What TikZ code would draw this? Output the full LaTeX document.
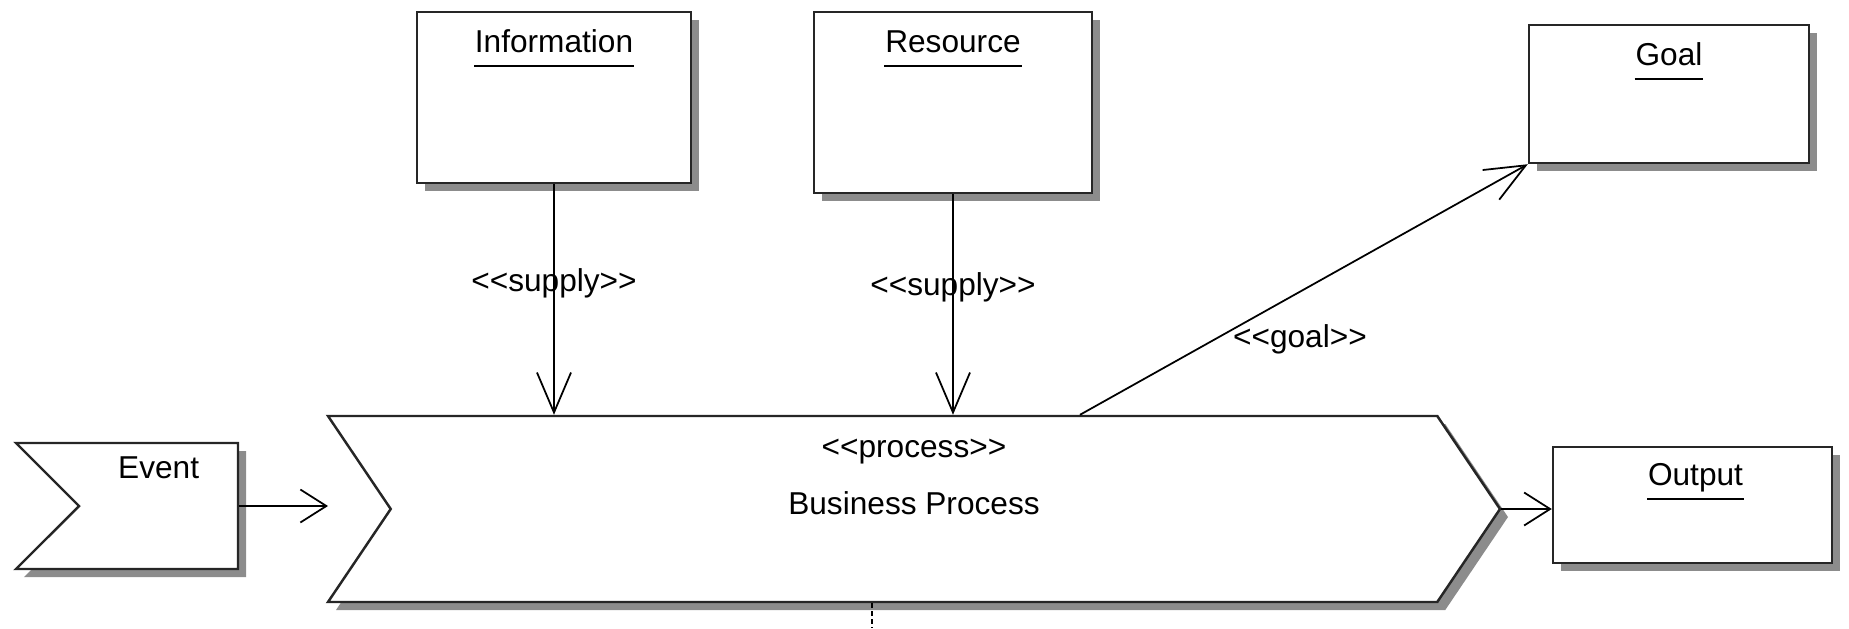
\documentclass[tikz,border=0pt]{standalone}
\usepackage{fontspec}
\setmainfont{Liberation Sans}
\usetikzlibrary{arrows.meta, shapes.symbols, shadows, positioning}

\tikzset{
  shade/.style = {drop shadow={shadow xshift=0.08cm, shadow yshift=-0.08cm, fill=black!45, opacity=1}},
  umlbox/.style = {rectangle, draw=black!85, line width=0.7pt, fill=white, shade},
  chevron/.style = {signal, draw=black!85, line width=0.7pt, fill=white, inner sep=0pt, shade},
  title/.style = {anchor=base, inner xsep=0pt},
  longhead/.style = {-{Straight Barb[length=0.4cm, width=0.34cm]}},
  shorthead/.style = {-{Straight Barb[length=0.26cm, width=0.33cm]}}
}

\begin{document}
\begin{tikzpicture}[line width=0.5pt, font=\fontsize{9}{11}\selectfont]
\useasboundingbox (0,0) rectangle (18.49,6.28);
% shapes
\node[chevron, signal from=west, signal to=nowhere, signal pointer angle=90, minimum width=2.22cm, minimum height=1.26cm] (event) at (1.585,1.22) {};
\node[chevron, signal from=west, signal to=east, signal pointer angle=112, minimum width=11.72cm, minimum height=1.86cm] (proc) at (9.14,1.19) {};
\node[umlbox, minimum width=2.79cm, minimum height=1.16cm] (out) at (16.925,1.23) {};
\node[umlbox, minimum width=2.74cm, minimum height=1.71cm] (info) at (5.54,5.305) {};
\node[umlbox, minimum width=2.78cm, minimum height=1.81cm] (res) at (9.53,5.255) {};
\node[umlbox, minimum width=2.80cm, minimum height=1.38cm] (goal) at (16.69,5.34) {};
% texts
\node[anchor=base east, inner sep=0pt] (evT) at ([xshift=0.415cm, yshift=0.28cm]event.center) {Event};
\node[anchor=base] (procS) at ([yshift=0.52cm]proc.center) {<{}<process>{}>};
\node[anchor=base] (procT) at ([yshift=-0.05cm]proc.center) {Business Process};
\node[title] (infoT) at ([yshift=-0.42cm]info.north) {Information};
\node[title] (resT) at ([yshift=-0.42cm]res.north) {Resource};
\node[title] (goalT) at ([yshift=-0.42cm]goal.north) {Goal};
\node[title, xshift=0.03cm] (outT) at ([yshift=-0.40cm]out.north) {Output};
\foreach \t in {infoT, resT, goalT, outT}
  \draw[line width=0.6pt] ([yshift=-0.13cm]\t.base west) -- ([yshift=-0.13cm]\t.base east);
% connectors
\coordinate (procIn) at (3.28,1.22);
\coordinate (down) at (8.72,0);
\draw[shorthead] (event.east) -- (event.east -| procIn);
\draw[longhead] (info) -- node[pos=.43] {<{}<supply>{}>} (info |- proc.north);
\draw[longhead] (res) -- node[pos=.42] {<{}<supply>{}>} (res |- proc.north);
\draw[longhead] ([xshift=1.66cm]proc.north) -- node[pos=.34, anchor=north west, inner sep=0pt, yshift=0.06cm] {<{}<goal>{}>} (goal.south west);
\draw[shorthead] (proc.east) -- (proc.east -| out.west);
\draw[dash pattern=on 0.05cm off 0.03cm] (down |- proc.south) -- (down);
\end{tikzpicture}
\end{document}
